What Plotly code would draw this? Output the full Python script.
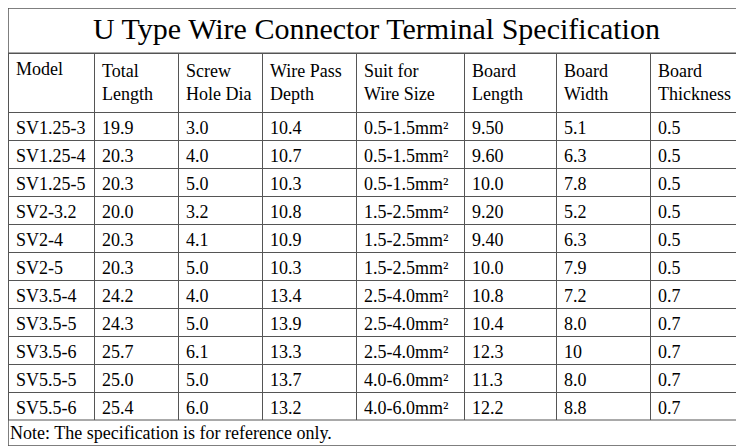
import plotly.graph_objects as go

title = "U Type Wire Connector Terminal Specification"
note = "Note: The specification is for reference only."
headers = ["Model", "Total<br>Length", "Screw<br>Hole Dia", "Wire Pass<br>Depth", "Suit for<br>Wire Size",
           "Board<br>Length", "Board<br>Width", "Board<br>Thickness"]
model = ["SV1.25-3", "SV1.25-4", "SV1.25-5", "SV2-3.2", "SV2-4", "SV2-5", "SV3.5-4", "SV3.5-5", "SV3.5-6", "SV5.5-5", "SV5.5-6"]
total_length = ["19.9", "20.3", "20.3", "20.0", "20.3", "20.3", "24.2", "24.3", "25.7", "25.0", "25.4"]
screw_hole = ["3.0", "4.0", "5.0", "3.2", "4.1", "5.0", "4.0", "5.0", "6.1", "5.0", "6.0"]
wire_depth = ["10.4", "10.7", "10.3", "10.8", "10.9", "10.3", "13.4", "13.9", "13.3", "13.7", "13.2"]
wire_size = ["0.5-1.5mm²"] * 3 + ["1.5-2.5mm²"] * 3 + ["2.5-4.0mm²"] * 3 + ["4.0-6.0mm²"] * 2
board_length = ["9.50", "9.60", "10.0", "9.20", "9.40", "10.0", "10.8", "10.4", "12.3", "11.3", "12.2"]
board_width = ["5.1", "6.3", "7.8", "5.2", "6.3", "7.9", "7.2", "8.0", "10", "8.0", "8.8"]
board_thick = ["0.5"] * 6 + ["0.7"] * 5

W, H = 736, 438
TOP = 45
col_px = [86, 84, 84, 94, 108, 92, 94, 94]
font = dict(family="Liberation Serif", size=18, color="black")

fig = go.Figure(go.Table(
    columnwidth=col_px,
    header=dict(values=headers, height=57, align="left", font=font,
                fill_color="white", line=dict(color="#555", width=1)),
    cells=dict(values=[model, total_length, screw_hole, wire_depth, wire_size, board_length, board_width, board_thick],
               height=28, align="left", font=font, fill_color="white",
               line=dict(color="#555", width=1)),
    domain=dict(x=[0, 1], y=[26 / H, 1 - TOP / H]),
))
fig.add_annotation(text=title, x=0.5, y=1 - 20 / H, xref="paper", yref="paper", showarrow=False,
                   xanchor="center", yanchor="middle",
                   font=dict(family="Liberation Serif", size=30, color="black"))
fig.add_annotation(text=note, x=0.0, y=13 / H, xref="paper", yref="paper", showarrow=False,
                   xanchor="left", yanchor="middle",
                   font=dict(family="Liberation Serif", size=18, color="black"))
fig.add_shape(type="rect", x0=0, x1=1, y0=0, y1=1, xref="paper", yref="paper", line=dict(color="#555", width=1.5))
fig.add_shape(type="line", x0=0, x1=1, y0=1 - TOP / H, y1=1 - TOP / H, xref="paper", yref="paper", line=dict(color="#555", width=1))
fig.add_shape(type="line", x0=0, x1=1, y0=26 / H, y1=26 / H, xref="paper", yref="paper", line=dict(color="#555", width=1))
fig.update_layout(width=W, height=H, margin=dict(l=0, r=0, t=0, b=0), paper_bgcolor="white")
fig.write_html("out.html")
